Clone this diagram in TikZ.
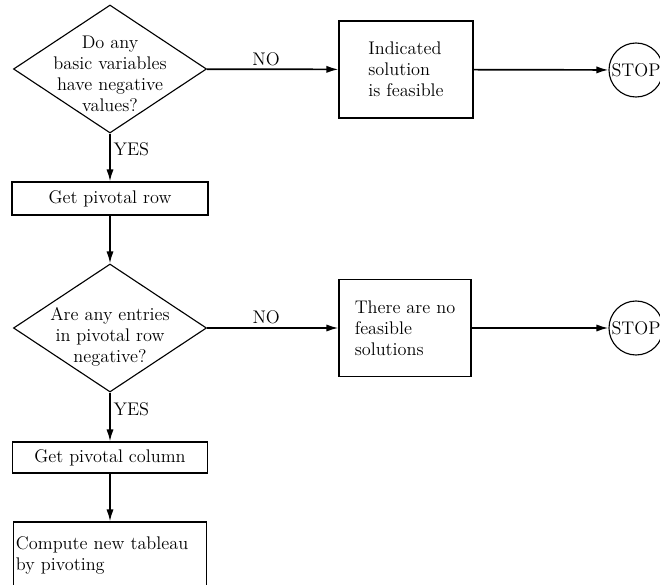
\documentclass[tikz,border=0pt]{standalone}
\usetikzlibrary{shapes.geometric,arrows.meta}
\begin{document}
\begin{tikzpicture}[x=0.025cm,y=-0.025cm,font=\fontsize{13}{15}\selectfont]
			\tikzset{% This is the style settings for nodes
				decisionnode/.style={diamond,draw,line width=0.8pt,minimum width=4.825cm,minimum height=3.2cm,inner sep=0pt},
				boxnode/.style={rectangle,draw,line width=0.8pt,inner sep=0pt},
				stopnode/.style={circle,draw,line width=0.8pt,minimum size=1.35cm,inner sep=0pt},
				answer/.style={inner sep=2pt}}
			\useasboundingbox (0,0) rectangle (660,585);
			\node[decisionnode,label={[align=center,yshift=-0.12cm]center:Do any\\basic variables\\have negative\\values?}] (0) at (110,69) {};
			\node[boxnode,minimum width=3.35cm,minimum height=2.425cm,align=left] (1) at (406,69.5) {Indicated\\solution\\is feasible};
			\node[stopnode] (2) at (636,70) {STOP};
			\node[boxnode,minimum width=4.9cm,minimum height=0.825cm] (3) at (110,198.5) {Get pivotal row};
			\node[decisionnode,label={[align=center,yshift=-0.22cm]center:Are any entries\\in pivotal row\\negative?}] (4) at (110,328) {};
			\node[boxnode,minimum width=3.3cm,minimum height=2.425cm,align=left] (5) at (405,328) {There are no\\feasible\\solutions};
			\node[stopnode] (6) at (636,328) {STOP};
			\node[boxnode,minimum width=4.875cm,minimum height=0.775cm] (7) at (110,457.5) {Get pivotal column};
			\node[boxnode,minimum height=1.65cm,text width=4.7cm,inner xsep=2pt,align=left] (8) at (110,555) {Compute new tableau\\by pivoting};

			\draw[-{Latex[length=3mm,width=1.8mm]},very thick](0) to node[answer,above,pos=0.45] {NO} (1);
			\draw[-{Latex[length=3mm,width=1.8mm]},very thick](1) to (2);
			\draw[-{Latex[length=3mm,width=1.8mm]},very thick](0) to node[answer,right,pos=0.33] {YES} (3);
			\draw[-{Latex[length=3mm,width=1.8mm]},very thick](3) to (4);
			\draw[-{Latex[length=3mm,width=1.8mm]},very thick](4) to node[answer,above,pos=0.45] {NO} (5);
			\draw[-{Latex[length=3mm,width=1.8mm]},very thick](5) to (6);
			\draw[-{Latex[length=3mm,width=1.8mm]},very thick](4) to node[answer,right,pos=0.34] {YES} (7);
			\draw[-{Latex[length=3mm,width=1.8mm]},very thick](7) to (8);
		\end{tikzpicture}
\end{document}
